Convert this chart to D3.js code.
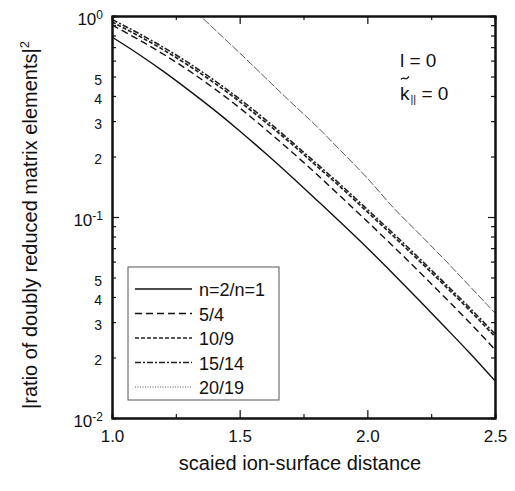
<!DOCTYPE html>
<html>
<head>
<meta charset="utf-8">
<script src="https://cdn.jsdelivr.net/npm/d3@7/dist/d3.min.js"></script>
<style>
body { margin: 0; background: #fff; }
text { font-family: "Liberation Sans", Arial, sans-serif; fill: #111; }
.axis path, .axis line { stroke: #111; }
</style>
</head>
<body>
<div id="plot"></div>
<script>

// values
var distance = [1.0, 1.1, 1.2, 1.3, 1.4, 1.5, 1.6, 1.7, 1.8, 1.9, 2.0, 2.1, 2.2, 2.3, 2.4, 2.5];
var ratio2to1 = [0.786, 0.651, 0.532, 0.428, 0.341, 0.268, 0.208, 0.160, 0.122, 0.0928, 0.0701, 0.0524, 0.0389, 0.0287, 0.0211, 0.0153];
var ratio5to4 = [0.902, 0.768, 0.647, 0.536, 0.436, 0.349, 0.274, 0.213, 0.164, 0.125, 0.0950, 0.0717, 0.0539, 0.0402, 0.0299, 0.0219];
var ratio10to9 = [0.934, 0.802, 0.680, 0.567, 0.465, 0.375, 0.297, 0.233, 0.180, 0.139, 0.106, 0.0807, 0.0611, 0.0460, 0.0344, 0.0254];
var ratio15to14 = [0.961, 0.825, 0.700, 0.584, 0.479, 0.386, 0.306, 0.239, 0.185, 0.143, 0.109, 0.0831, 0.0629, 0.0473, 0.0354, 0.0262];
var distance20 = [1.3, 1.4, 1.5, 1.6, 1.7, 1.8, 1.9, 2.0, 2.1, 2.2, 2.3, 2.4, 2.5];
var ratio20to19 = [1.134, 0.862, 0.655, 0.494, 0.373, 0.284, 0.211, 0.156, 0.112, 0.0833, 0.0618, 0.0454, 0.0333];

var seriesLabels = ["n=2/n=1", "5/4", "10/9", "15/14", "20/19"];

var xTicks = [1.0, 1.5, 2.0, 2.5];
var xMinorTicks = [1.25, 1.75, 2.25];
var yMajorTicks = [1, 0.1, 0.01];
var yMajorExponents = ["0", "-1", "-2"];
var yMinorTicks = [0.9, 0.8, 0.7, 0.6, 0.5, 0.4, 0.3, 0.2, 0.09, 0.08, 0.07, 0.06, 0.05, 0.04, 0.03, 0.02];
var yMinorLabels = [5, 4, 3, 2];

var width = 515, height = 491;
var margin = { top: 16, left: 112, bottom: 73, right: 20 };

var svg = d3.select("#plot").append("svg")
	.attr("width", width).attr("height", height);

var x = d3.scaleLinear().domain([1.0, 2.5])
	.range([margin.left, width - margin.right]);
var y = d3.scaleLog().domain([0.01, 1])
	.range([height - margin.bottom, margin.top]);

var x0 = margin.left, x1 = width - margin.right;
var y0 = height - margin.bottom, y1 = margin.top;

svg.append("clipPath").attr("id", "clip").append("rect")
	.attr("x", x0).attr("y", y1).attr("width", x1 - x0).attr("height", y0 - y1);

// curves
var styles = [
	{ dash: null, width: 1.4, color: "#111" },
	{ dash: "7,4", width: 1.4, color: "#111" },
	{ dash: "4,2", width: 1.7, color: "#222" },
	{ dash: "6,2,2,2", width: 1.6, color: "#222" },
	{ dash: "8,2", width: 0.9, color: "#444", legendDash: "1,1.5" }
];

var series = [
	{ xs: distance, ys: ratio2to1 },
	{ xs: distance, ys: ratio5to4 },
	{ xs: distance, ys: ratio10to9 },
	{ xs: distance, ys: ratio15to14 },
	{ xs: distance20, ys: ratio20to19 }
].map(function(s, i) {
	return {
		label: seriesLabels[i],
		style: styles[i],
		points: s.xs.map(function(d, j) { return [d, s.ys[j]]; })
	};
});

var line = d3.line()
	.x(function(d) { return x(d[0]); })
	.y(function(d) { return y(d[1]); })
	.curve(d3.curveMonotoneX);

svg.append("g").attr("clip-path", "url(#clip)")
	.selectAll("path").data(series).enter()
	.append("path")
	.attr("d", function(d) { return line(d.points); })
	.attr("fill", "none")
	.attr("stroke", function(d) { return d.style.color; })
	.attr("stroke-width", function(d) { return d.style.width; })
	.attr("stroke-dasharray", function(d) { return d.style.dash; });

// axes, ticks pointing into the plot
function styleAxis(g) {
	g.attr("class", "axis");
	g.select(".domain").attr("stroke-width", 2);
	g.selectAll(".tick line").attr("stroke-width", 1.2);
}

svg.append("g").attr("transform", "translate(0," + y0 + ")")
	.call(d3.axisBottom(x).tickValues(xTicks).tickSizeInner(-8).tickSizeOuter(0)
		.tickPadding(12).tickFormat(d3.format(".1f")))
	.call(styleAxis)
	.selectAll("text").attr("font-size", 17).attr("fill", "#111")
	.attr("font-family", "Liberation Sans, Arial, sans-serif");

svg.append("g").attr("transform", "translate(0," + y0 + ")")
	.call(d3.axisBottom(x).tickValues(xMinorTicks).tickSize(-4).tickFormat(""))
	.call(styleAxis);

svg.append("g").attr("transform", "translate(0," + y1 + ")")
	.call(d3.axisTop(x).tickValues(xTicks).tickSizeInner(-8).tickSizeOuter(0).tickFormat(""))
	.call(styleAxis);

svg.append("g").attr("transform", "translate(0," + y1 + ")")
	.call(d3.axisTop(x).tickValues(xMinorTicks).tickSize(-4).tickFormat(""))
	.call(styleAxis);

svg.append("g").attr("transform", "translate(" + x0 + ",0)")
	.call(d3.axisLeft(y).tickValues(yMajorTicks).tickSizeInner(-7).tickSizeOuter(0).tickFormat(""))
	.call(styleAxis);

svg.append("g").attr("transform", "translate(" + x0 + ",0)")
	.call(d3.axisLeft(y).tickValues(yMinorTicks).tickSize(-4).tickFormat(""))
	.call(styleAxis);

svg.append("g").attr("transform", "translate(" + x1 + ",0)")
	.call(d3.axisRight(y).tickValues(yMajorTicks).tickSizeInner(-7).tickSizeOuter(0).tickFormat(""))
	.call(styleAxis);

svg.append("g").attr("transform", "translate(" + x1 + ",0)")
	.call(d3.axisRight(y).tickValues(yMinorTicks).tickSize(-4).tickFormat(""))
	.call(styleAxis);

// y tick labels: powers of ten plus 5,4,3,2 in each decade
yMajorTicks.forEach(function(v, i) {
	var t = svg.append("text")
		.attr("x", x0 - 9).attr("y", y(v) + 9)
		.attr("text-anchor", "end")
		.attr("font-size", 17);
	t.append("tspan").text("10");
	t.append("tspan").attr("font-size", 12).attr("dy", -6).text(yMajorExponents[i]);
});

[1, 0.1].forEach(function(decade) {
	yMinorLabels.forEach(function(m) {
		svg.append("text")
			.attr("x", x0 - 10).attr("y", y(m * decade / 10) + 8)
			.attr("text-anchor", "end")
			.attr("font-size", 14)
			.text(m);
	});
});

// axis titles
svg.append("text")
	.attr("x", 300).attr("y", 470)
	.attr("text-anchor", "middle")
	.attr("font-size", 20)
	.text("scaied ion-surface distance");

var yTitle = svg.append("text")
	.attr("transform", "translate(37,225) rotate(-90)")
	.attr("text-anchor", "middle")
	.attr("font-size", 20);
yTitle.append("tspan").text("|ratio of doubly reduced matrix elements|");
yTitle.append("tspan").attr("font-size", 13).attr("dy", -8).text("2");

// annotation
svg.append("text").attr("x", 400).attr("y", 67).attr("font-size", 19).text("l = 0");
var kText = svg.append("text").attr("x", 400).attr("y", 100).attr("font-size", 19);
kText.append("tspan").text("k");
kText.append("tspan").attr("font-size", 11).attr("dy", 3).attr("dx", 1).text("||");
kText.append("tspan").attr("dy", -3).text(" = 0");

// tilde over the k, drawn as a small wave
var tilde = d3.path();
tilde.moveTo(401, 79.5);
tilde.bezierCurveTo(403, 76, 405, 80, 407, 78.5);
tilde.bezierCurveTo(408, 77.5, 408.5, 77, 409, 76.5);
svg.append("path").attr("d", tilde.toString())
	.attr("fill", "none").attr("stroke", "#111").attr("stroke-width", 1.3);

// legend
var legend = svg.append("g").attr("transform", "translate(128,267)");

legend.append("rect")
	.attr("width", 151).attr("height", 133)
	.attr("fill", "#fff").attr("stroke", "#555").attr("stroke-width", 1);

var entry = legend.selectAll(".entry").data(series).enter()
	.append("g").attr("class", "entry")
	.attr("transform", function(d, i) { return "translate(0," + (22 + i * 24.5) + ")"; });

entry.append("line")
	.attr("x1", 7).attr("x2", 64)
	.attr("stroke", function(d) { return d.style.color; })
	.attr("stroke-width", function(d) { return d.style.width; })
	.attr("stroke-dasharray", function(d) { return d.style.legendDash || d.style.dash; });

entry.append("text")
	.attr("x", 71).attr("y", 7)
	.attr("font-size", 18)
	.text(function(d) { return d.label; });

</script>
</body>
</html>
